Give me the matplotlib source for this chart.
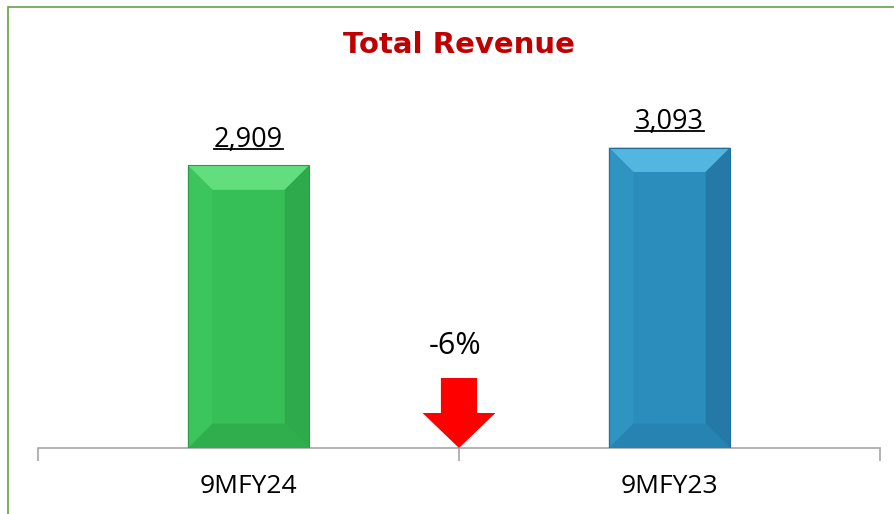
import matplotlib.pyplot as plt
from matplotlib.patches import Polygon, Rectangle
from matplotlib.lines import Line2D

categories = ['9MFY24', '9MFY23']
revenue = [2909, 3093]
value_labels = ['2,909', '3,093']
change_label = '-6%'
title = 'Total Revenue'

# face colours: main, top bevel, bottom bevel, left bevel, right bevel, edge
green = ['#36BF56', '#62DE7F', '#30AE4D', '#3CC55C', '#2EA94B', '#2A9A45']
blue = ['#2B8DBC', '#52B6E0', '#2784B2', '#3094C3', '#2579A6', '#216F98']
palette = [green, blue]

plt.rcParams['font.family'] = ['Open Sans', 'DejaVu Sans']

fig = plt.figure(figsize=(8.95, 5.14), dpi=100)
W, H = 895, 514
ax = fig.add_axes([38 / W, 66 / H, (880 - 38) / W, (448 - 108) / H])

# green frame of the chart box
fig.patches.append(Rectangle((8 / W, -0.1), 1.2, (514 - 7) / H + 0.1,
                             transform=fig.transFigure, fill=False,
                             edgecolor='#6A9F45', linewidth=1.2))

ymax = 3500
ax.set_xlim(0, 2)
ax.set_ylim(0, ymax)
bw = 0.288
bev_x = 0.058                      # bevel width in x units
bev_y = bev_x * 421 * ymax / 340   # same size in pixels along y

for i, (v, c) in enumerate(zip(revenue, palette)):
    xc = i + 0.5
    x0, x1 = xc - bw / 2, xc + bw / 2
    ax.add_patch(Rectangle((x0, 0), bw, v, facecolor=c[0], edgecolor='none', zorder=2))
    ix0, ix1 = x0 + bev_x, x1 - bev_x
    iy0, iy1 = bev_y, v - bev_y
    ax.add_patch(Polygon([(x0, v), (x1, v), (ix1, iy1), (ix0, iy1)], closed=True,
                         facecolor=c[1], edgecolor='none', zorder=3))
    ax.add_patch(Polygon([(x0, 0), (x1, 0), (ix1, iy0), (ix0, iy0)], closed=True,
                         facecolor=c[2], edgecolor='none', zorder=3))
    ax.add_patch(Polygon([(x0, 0), (x0, v), (ix0, iy1), (ix0, iy0)], closed=True,
                         facecolor=c[3], edgecolor='none', zorder=3))
    ax.add_patch(Polygon([(x1, 0), (x1, v), (ix1, iy1), (ix1, iy0)], closed=True,
                         facecolor=c[4], edgecolor='none', zorder=3))
    ax.add_patch(Rectangle((x0, 0), bw, v, fill=False, edgecolor=c[5], linewidth=0.8, zorder=4))
    ax.text(xc, v + 120, value_labels[i], ha='center', va='bottom', fontsize=19.5,
            color='black', zorder=5, gid='val%d' % i)

# axis styling
for s in ['top', 'right', 'left']:
    ax.spines[s].set_visible(False)
ax.spines['bottom'].set_color('#A6A6A6')
ax.spines['bottom'].set_linewidth(1.2)
ax.set_yticks([])
ax.set_xticks([0, 1, 2])
ax.set_xticklabels([])
ax.tick_params(axis='x', length=9, color='#A6A6A6', width=1.2)
ax.set_xticks([0.5, 1.5], minor=True)
ax.set_xticklabels(categories, minor=True, fontsize=19)
ax.tick_params(axis='x', which='minor', length=0, pad=19)

# red down arrow for the change between the bars
shaft_w = 0.086
head_w = 0.173
top_y = (448 - 378) / 340 * ymax
head_y = (448 - 413) / 340 * ymax
ax.add_patch(Polygon([(1 - shaft_w / 2, top_y), (1 + shaft_w / 2, top_y),
                      (1 + shaft_w / 2, head_y), (1 + head_w / 2, head_y),
                      (1, 0), (1 - head_w / 2, head_y), (1 - shaft_w / 2, head_y)],
                     closed=True, facecolor='#FF0000', edgecolor='none', zorder=3))
ax.text(0.99, top_y + 170, change_label, ha='center', va='bottom', fontsize=22, color='black')

fig.text(459 / W, 1 - 45 / H, title, ha='center', va='center', fontsize=21,
         fontweight='bold', color='#C00000', family='DejaVu Sans')

# underline the value labels
fig.canvas.draw()
r = fig.canvas.get_renderer()
for t in ax.texts:
    if t.get_gid() and t.get_gid().startswith('val'):
        bb = t.get_window_extent(r)
        yline = bb.y0 + 5
        fig.add_artist(Line2D([bb.x0 / W, bb.x1 / W], [yline / H, yline / H],
                              transform=fig.transFigure, color='black', linewidth=1.3))

fig.savefig('out.png', dpi=100)
